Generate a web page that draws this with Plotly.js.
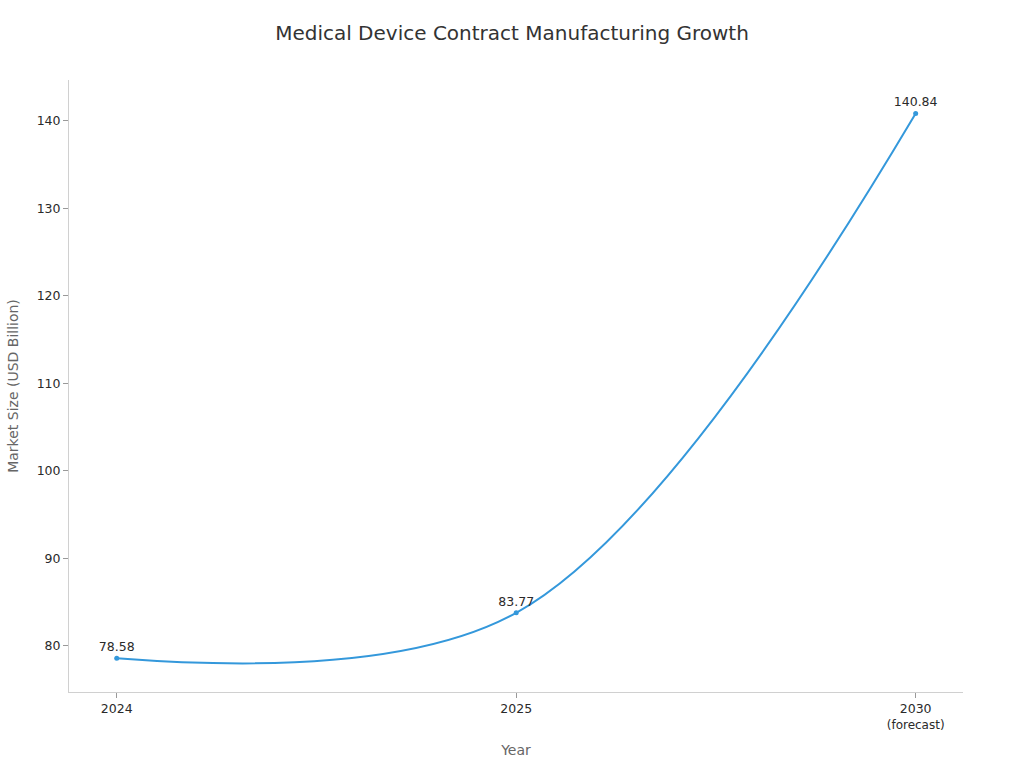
<!DOCTYPE html>
<html>
<head>
<meta charset="utf-8">
<script src="https://cdn.plot.ly/plotly-3.0.1.min.js"></script>
<style>html,body{margin:0;padding:0;background:#fff}#chart{width:1024px;height:768px}</style>
</head>
<body>
<div id="chart"></div>
<script>
const years = ["2024", "2025", "2030<br><span style=\"font-size:12px\">(forecast)</span>"];
const marketSize = [78.58, 83.77, 140.84];
const valueLabels = ["78.58", "83.77", "140.84"];
const yTicks = [80, 90, 100, 110, 120, 130, 140];
const FONT = "DejaVu Sans, sans-serif";

Plotly.newPlot("chart", [{
  type: "scatter",
  mode: "lines+markers+text",
  x: years,
  y: marketSize,
  text: valueLabels,
  textposition: "top center",
  textfont: {family: FONT, size: 12.5, color: "#2a2a2a"},
  line: {shape: "spline", smoothing: 1, color: "#3498db", width: 2},
  marker: {color: "#3498db", size: 5},
  cliponaxis: false,
  hoverinfo: "x+y"
}], {
  width: 1024, height: 768,
  paper_bgcolor: "#fff", plot_bgcolor: "#fff",
  showlegend: false,
  margin: {l: 69, r: 61, t: 80, b: 76},
  title: {text: "Medical Device Contract Manufacturing Growth", x: 0.5, xanchor: "center", y: 0.957, yanchor: "middle",
    font: {family: FONT, size: 20, color: "#333"}},
  xaxis: {
    type: "category", range: [-0.1195, 2.1185], showgrid: false, zeroline: false,
    showline: true, linecolor: "#d0d0d0", linewidth: 1,
    ticks: "outside", ticklen: 5, tickcolor: "#999", tickwidth: 1,
    tickfont: {family: FONT, size: 12.5, color: "#2a2a2a"},
    title: {text: "Year", font: {family: FONT, size: 14, color: "#666"}, standoff: 13}
  },
  yaxis: {
    range: [74.72, 144.66], tickvals: yTicks, showgrid: false, zeroline: false,
    showline: true, linecolor: "#d0d0d0", linewidth: 1,
    ticks: "outside", ticklen: 5, tickcolor: "#999", tickwidth: 1,
    tickfont: {family: FONT, size: 12.5, color: "#2a2a2a"},
    title: {text: "Market Size (USD Billion)", font: {family: FONT, size: 14, color: "#666"}, standoff: 14}
  }
}, {displayModeBar: false, responsive: false});
</script>
</body>
</html>
